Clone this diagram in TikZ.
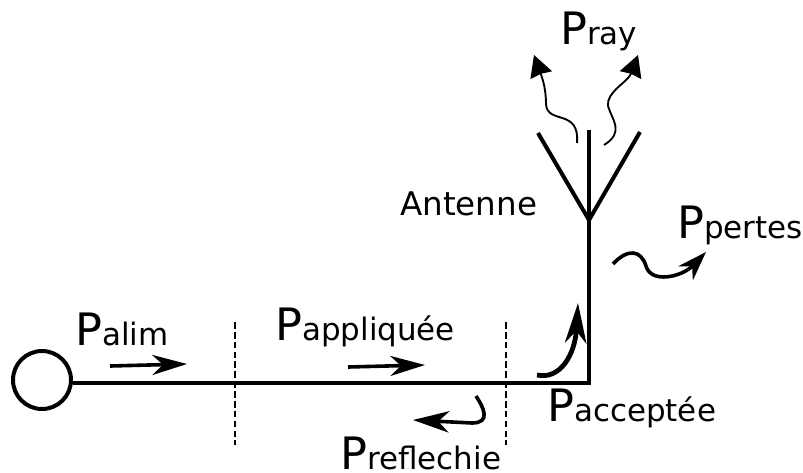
\documentclass[tikz,border=0pt]{standalone}
\usepackage{fontspec}
\setmainfont{DejaVu Sans}
\usetikzlibrary{arrows.meta}
\newcommand{\puiss}[1]{{\fontsize{33.5}{33.5}\selectfont P}{\fontsize{23.2}{23.2}\selectfont #1}}
\tikzset{
    ligne/.style={line width=3pt},
    seuil/.style={line width=1.5pt, dash pattern=on 5pt off 2.4pt},
    flux/.style={line width=2.7pt, -{Stealth[length=26pt,width=15pt,inset=8pt]}},
    onde/.style={line width=1.4pt, -{Stealth[length=16pt,width=17pt,inset=1pt]}},
    etiquette/.style={anchor=base west, inner sep=0pt},
}
\begin{document}
\begin{tikzpicture}[x=0.75pt,y=0.75pt,yscale=-1,xscale=1]
            \useasboundingbox (0,0) rectangle (803,472);

            % Points
            \node [circle, draw, line width=3pt, minimum size=58*0.75pt, inner sep=0pt] (source) at (42,380) {};
            \coordinate (coude) at (589,383);
            \coordinate (pied) at (589,220);
            \coordinate (brinG) at (538,133);
            \coordinate (brinC) at (589,130);
            \coordinate (brinD) at (640,132);
            \coordinate (entree) at (source.east |- coude);
            \coordinate (seuilAh) at (235,322);
            \coordinate (seuilAb) at (235,445);
            \coordinate (seuilBh) at (505.5,322);
            \coordinate (seuilBb) at (505.5,445);

            % Lines
            \draw [ligne] (entree) -- (coude) -- (pied);
            \draw [ligne] (brinG) -- (pied) -- (brinD);
            \draw [ligne] (brinC) -- (pied);
            \draw [seuil] (seuilAh) -- (seuilAb);
            \draw [seuil] (seuilBh) -- (seuilBb);

            % Arrows
            \coordinate (alimA) at (110,366);
            \coordinate (alimB) at (187,364);
            \coordinate (applA) at (348,367);
            \coordinate (applB) at (425,365);
            \coordinate (accA) at (537,375);
            \coordinate (accB) at (578,303);
            \coordinate (refA) at (476,396);
            \coordinate (refB) at (413,420);
            \coordinate (perA) at (613,264);
            \coordinate (perB) at (706,252);
            \coordinate (rayGA) at (577,143);
            \coordinate (rayGB) at (534,55);
            \coordinate (rayDA) at (604,145);
            \coordinate (rayDB) at (638,55);
            \draw [flux] (alimA) -- (alimB);
            \draw [flux] (applA) -- (applB);
            \draw [flux, line width=3.6pt, -{Stealth[length=30pt,width=16pt,inset=9pt]}] (accA) .. controls (560,380) and (575,355) .. (accB);
            \draw [flux, -{Stealth[length=27pt,width=16pt,inset=8pt]}] (refA) .. controls (484,408) and (491,423) .. (472,423) -- (refB);
            \draw [flux, -{Stealth[length=22pt,width=15pt,inset=7pt]}] (perA) .. controls (628,248) and (641,250) .. (646,266) .. controls (651,284) and (682,277) .. (perB);
            \draw [onde] (rayGA) .. controls (580,108) and (547,125) .. (546,104) .. controls (546,90) and (543,80) .. (rayGB);
            \draw [onde] (rayDA) .. controls (625,132) and (612,120) .. (608,106) .. controls (606,92) and (628,82) .. (rayDB);

            % Labels
            \node [etiquette] (palim) at (75,345) {\puiss{alim}};
            \node [etiquette] (pappl) at (275,340) {\puiss{appliquée}};
            \node [etiquette] (pacc) at (547,421) {\puiss{acceptée}};
            \node [etiquette] (pref) at (340,469) {\puiss{reflechie}};
            \node [etiquette] (ppert) at (677,238) {\puiss{pertes}};
            \node [etiquette] (pray) at (560,44) {\puiss{ray}};
            \node [etiquette, font=\fontsize{24.4}{24.4}\selectfont] (antenne) at (400,215) {Antenne};

            \end{tikzpicture}
\end{document}
